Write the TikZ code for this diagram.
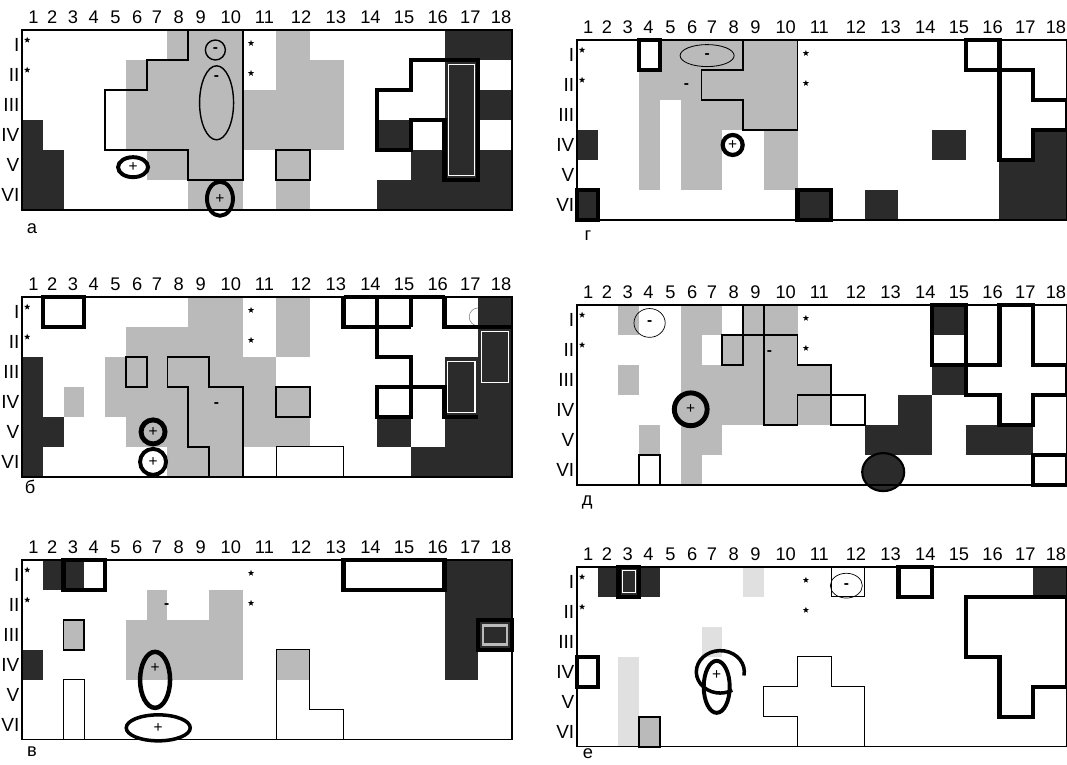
\documentclass[tikz,border=0pt]{standalone}
\usepackage{fontspec}
\setmainfont{Liberation Sans}
\usetikzlibrary{shapes.geometric,calc}
\definecolor{darkCell}{HTML}{2B2B2B}
\definecolor{lightCell}{HTML}{BABABA}
\definecolor{paleCell}{HTML}{E0E0E0}

\begin{document}
\begin{tikzpicture}[
    declare function={cx(\k)=min(\k,9)+1.62*max(\k-9,0);},
    dark/.style={fill=darkCell},
    light/.style={fill=lightCell},
    pale/.style={fill=paleCell},
    gridframe/.style={line width=0.9pt},
    outl/.style={line width=1.3pt},
    fine/.style={line width=0.7pt},
    heavy/.style={line width=3pt},
    cellinset/.style={white, line width=0.8pt},
    pole/.style={ellipse, draw, inner sep=0pt, outer sep=0pt, font=\fontsize{11}{11}\selectfont},
    minustxt/.style={font=\bfseries\fontsize{11}{11}\selectfont, inner sep=0pt},
    starmark/.style={star, star points=5, star point ratio=2.4, fill=black, inner sep=0pt, minimum size=0.16cm},
    collab/.style={font=\fontsize{13}{13}\selectfont, inner sep=0pt},
    rowlab/.style={anchor=east, font=\fontsize{13.5}{13.5}\selectfont, inner sep=0pt},
    panlab/.style={font=\fontsize{13}{13}\selectfont, inner sep=0pt},
]

\useasboundingbox (0,0) rectangle (26.675,-19.1);

% Grid points of the six panels
\foreach \p/\ox/\oy in {a/22/30, g/577/40, b/22/297, d/577/305, v/22/560, e/577/567}{
  \foreach \c in {0,...,18}{
    \foreach \r in {0,...,6}{
      \coordinate (\p-\c-\r) at ({(\ox+20.78*cx(\c))*0.025},{-(\oy+30*\r)*0.025});
    }
  }
}

% Column numbers and row numerals
\foreach \p in {a,g,b,d,v,e}{
  \foreach \k/\dx [count=\km from 0] in {1/1,2/-1,3/-1,4/-1,5/0,6/1,7/0,8/1,9/2,10/5,11/5,12/8,13/9,14/10,15/10,16/10,17/9,18/6}{
    \node[collab, anchor=base] (\p-col\k) at ($(\p-\km-0)!0.5!(\p-\k-0)+(\dx*0.025,0.15)$) {\k};
  }
  \foreach \r/\t in {1/I,2/II,3/III,4/IV,5/V,6/VI}{
    \node[rowlab] (\p-row\r) at ([xshift=-0.06cm,yshift=0.375cm]\p-0-\r) {\t};
  }
}

% Panel a
\fill[light] (a-7-0) rectangle (a-10-1);
\fill[light] (a-11-0) rectangle (a-12-6);
\fill[light] (a-5-1) rectangle (a-10-2);
\fill[light] (a-11-1) rectangle (a-13-2);
\fill[light] (a-5-2) rectangle (a-13-4);
\fill[light] (a-6-4) rectangle (a-10-5);
\fill[light] (a-8-5) rectangle (a-10-6);
\fill[dark] (a-0-3) rectangle (a-1-6);
\fill[dark] (a-1-4) rectangle (a-2-6);
\fill[dark] (a-16-0) rectangle (a-18-1);
\fill[dark] (a-16-1) rectangle (a-17-5);
\fill[dark] (a-16-2) rectangle (a-18-3);
\fill[dark] (a-14-3) rectangle (a-15-4);
\fill[dark] (a-15-4) rectangle (a-18-6);
\fill[dark] (a-14-5) rectangle (a-15-6);
\draw[cellinset] ([shift={(0.1,-0.12)}]a-16-1) rectangle ([shift={(-0.1,0.12)}]a-17-5);
\draw[outl] (a-8-0) -- (a-8-1) -- (a-6-1) -- (a-6-2) -- (a-4-2) -- (a-4-4) -- (a-8-4) -- (a-8-5) -- (a-10-5) -- (a-10-0);
\draw[outl] (a-11-4) rectangle (a-12-5);
\draw[heavy] (a-14-2) -- (a-15-2) -- (a-15-1) -- (a-17-1) -- (a-17-5) -- (a-16-5) -- (a-16-3) -- (a-15-3) -- (a-15-4) -- (a-14-4) -- cycle;
\node[pole, line width=1pt, minimum size=0.5cm] (a-minus) at ([shift={(0.16,-0.5)}]a-9-0) {\textbf{-}};
\node[pole, line width=1pt, minimum width=0.85cm, minimum height=1.85cm] (a-oval) at ([shift={(0.19,-1.82)}]a-9-0) {};
\node[minustxt] (a-dash) at ([yshift=0.62cm]a-oval.center) {-};
\node[pole, line width=2.8pt, minimum width=0.75cm, minimum height=0.5cm] (a-plus1) at ([shift={(0.18,-0.43)}]a-5-4) {+};
\node[pole, line width=2.8pt, minimum width=0.65cm, minimum height=0.85cm] (a-plus2) at ([shift={(0.275,-0.47)}]a-9-5) {+};

% Panel g
\fill[light] (g-4-0) rectangle (g-10-1);
\fill[light] (g-3-1) rectangle (g-10-2);
\fill[light] (g-3-2) rectangle (g-4-5);
\fill[light] (g-5-2) rectangle (g-10-3);
\fill[light] (g-5-3) rectangle (g-7-5);
\fill[light] (g-9-3) rectangle (g-10-5);
\fill[dark] (g-0-3) rectangle (g-1-4);
\fill[dark] (g-12-5) rectangle (g-13-6);
\fill[dark] (g-14-3) rectangle (g-15-4);
\fill[dark] (g-16-4) rectangle (g-17-6);
\fill[dark] (g-17-3) rectangle (g-18-6);
\draw[heavy, fill=darkCell] (g-0-5) rectangle (g-1-6);
\draw[heavy, fill=darkCell] (g-10-5) rectangle (g-11-6);
\draw[outl] (g-8-0) -- (g-8-1) -- (g-6-1) -- (g-6-2) -- (g-8-2) -- (g-8-3) -- (g-10-3) -- (g-10-0);
\draw[heavy] (g-3-0) rectangle (g-4-1);
\draw[heavy] (g-15-0) rectangle (g-16-1);
\draw[heavy] (g-16-1) -- (g-17-1) -- (g-17-2) -- (g-18-2) -- (g-18-3) -- (g-17-3) -- (g-17-4) -- (g-16-4) -- cycle;
\node[pole, line width=0.6pt, minimum width=1.35cm, minimum height=0.55cm] (g-minus) at ([shift={(0.14,-0.39)}]g-6-0) {\textbf{-}};
\node[minustxt] (g-dash) at ([shift={(0.14,-0.39)}]g-5-1) {-};
\node[pole, line width=3pt, minimum size=0.5cm] (g-plus) at ([shift={(0.26,-0.375)}]g-7-3) {+};

% Panel b
\fill[light] (b-8-0) rectangle (b-10-1);
\fill[light] (b-11-0) rectangle (b-12-2);
\fill[light] (b-5-1) rectangle (b-10-2);
\fill[light] (b-4-2) rectangle (b-11-4);
\fill[light] (b-11-3) rectangle (b-12-4);
\fill[light] (b-5-4) rectangle (b-12-5);
\fill[light] (b-7-5) rectangle (b-10-6);
\fill[light] (b-2-3) rectangle (b-3-4);
\node[circle, draw=gray, line width=0.4pt, minimum size=0.45cm] (b-arc) at ([shift={(0,-0.5)}]b-17-0) {};
\fill[dark] (b-0-2) rectangle (b-1-6);
\fill[dark] (b-1-4) rectangle (b-2-5);
\fill[dark] (b-17-0) rectangle (b-18-6);
\fill[dark] (b-16-2) rectangle (b-17-6);
\fill[dark] (b-15-5) rectangle (b-16-6);
\fill[dark] (b-14-4) rectangle (b-15-5);
\draw[cellinset] ([shift={(0.08,-0.12)}]b-17-1) rectangle ([shift={(-0.08,0.12)}]b-18-3);
\draw[cellinset] ([shift={(0.08,-0.12)}]b-16-2) rectangle ([shift={(-0.08,0.12)}]b-17-4);
\draw[outl] (b-5-2) rectangle (b-6-3);
\draw[outl] (b-7-2) -- (b-9-2) -- (b-9-3) -- (b-10-3) -- (b-10-6) -- (b-9-6) -- (b-9-5) -- (b-8-5) -- (b-8-3) -- (b-7-3) -- cycle;
\draw[outl] (b-11-3) rectangle (b-12-4);
\draw[fine] (b-11-5) rectangle (b-13-6);
\draw[heavy] (b-1-0) rectangle (b-3-1);
\draw[heavy] (b-13-0) -- (b-16-0);
\draw[heavy] (b-13-0) -- (b-13-1) -- (b-15-1);
\draw[heavy] (b-14-0) -- (b-14-2) -- (b-15-2) -- (b-15-4) -- (b-14-4) -- (b-14-3) -- (b-16-3) -- (b-16-4) -- (b-17-4);
\draw[heavy] (b-15-0) -- (b-15-1);
\draw[heavy] (b-16-0) -- (b-16-1) -- (b-18-1);
\node[pole, line width=3.5pt, minimum size=0.6cm] (b-plus1) at ([shift={(0.16,-0.375)}]b-6-4) {+};
\node[pole, line width=2.8pt, minimum size=0.65cm, fill=white] (b-plus2) at ([shift={(0.16,-0.375)}]b-6-5) {+};
\node[minustxt] (b-dash) at ([shift={(0.19,-0.45)}]b-9-3) {-};

% Panel d
\fill[light] (d-2-0) rectangle (d-3-1);
\fill[light] (d-5-0) rectangle (d-7-1);
\fill[light] (d-8-0) rectangle (d-10-1);
\fill[light] (d-5-1) rectangle (d-6-2);
\fill[light] (d-7-1) rectangle (d-10-2);
\fill[light] (d-2-2) rectangle (d-3-3);
\fill[light] (d-5-2) rectangle (d-11-4);
\fill[light] (d-3-4) rectangle (d-4-5);
\fill[light] (d-5-4) rectangle (d-7-5);
\fill[light] (d-5-5) rectangle (d-6-6);
\fill[dark] (d-12-4) rectangle (d-14-5);
\fill[dark] (d-13-3) rectangle (d-14-4);
\fill[dark] (d-14-0) rectangle (d-15-1);
\fill[dark] (d-14-2) rectangle (d-15-3);
\fill[dark] (d-15-4) rectangle (d-17-5);
\draw[outl] (d-8-0) -- (d-8-1);
\draw[outl] (d-7-1) rectangle (d-8-2);
\draw[outl] (d-8-1) -- (d-10-1) -- (d-10-2) -- (d-11-2) -- (d-11-3);
\draw[outl] (d-9-0) -- (d-9-4) -- (d-10-4) -- (d-10-3) -- (d-12-3) -- (d-12-4) -- (d-11-4) -- (d-11-3);
\draw[outl] (d-3-5) rectangle (d-4-6);
\draw[heavy] (d-14-0) rectangle (d-15-2);
\draw[heavy] (d-16-0) -- (d-17-0) -- (d-17-2) -- (d-18-2) -- (d-18-3) -- (d-17-3) -- (d-17-4) -- (d-16-4) -- (d-16-3) -- (d-15-3) -- (d-15-2) -- (d-16-2) -- cycle;
\draw[heavy] (d-17-5) rectangle (d-18-6);
\node[pole, line width=0.5pt, minimum width=0.78cm, minimum height=0.72cm] (d-minus) at ([shift={(0.26,-0.45)}]d-3-0) {\textbf{-}};
\node[pole, line width=3.5pt, minimum size=0.82cm, fill=lightCell] (d-plus) at ([shift={(0.25,-0.36)}]d-5-3) {+};
\node[minustxt] (d-dash) at ([shift={(0.14,-0.45)}]d-9-1) {-};
\node[pole, line width=1.5pt, fill=darkCell, minimum width=1.05cm, minimum height=0.95cm] (d-blot) at ([shift={(0.46,-0.43)}]d-12-5) {};

% Panel v
\fill[light] (v-6-1) rectangle (v-7-2);
\fill[light] (v-9-1) rectangle (v-10-2);
\fill[light] (v-5-2) rectangle (v-10-4);
\fill[light] (v-2-2) rectangle (v-3-3);
\fill[light] (v-11-3) rectangle (v-12-4);
\fill[dark] (v-1-0) rectangle (v-3-1);
\fill[dark] (v-0-3) rectangle (v-1-4);
\fill[dark] (v-16-0) rectangle (v-17-4);
\fill[dark] (v-17-0) rectangle (v-18-3);
\draw[lightCell, line width=2pt] ([shift={(0.12,-0.14)}]v-17-2) rectangle ([shift={(-0.12,0.14)}]v-18-3);
\draw[outl] (v-2-2) rectangle (v-3-3);
\draw[fine] (v-2-6) -- (v-2-4) -- (v-3-4) -- (v-3-6);
\draw[fine] (v-11-6) -- (v-11-3) -- (v-12-3) -- (v-12-5) -- (v-13-5) -- (v-13-6);
\draw[heavy] (v-2-0) rectangle (v-4-1);
\draw[heavy] (v-13-0) rectangle (v-16-1);
\draw[heavy] (v-17-2) rectangle (v-18-3);
\node[minustxt] (v-dash) at ([shift={(0.5,-0.4)}]v-6-1) {-};
\node[pole, line width=3.2pt, minimum width=0.75cm, minimum height=1.4cm] (v-oval) at ([shift={(0.21,0)}]v-6-4) {};
\node[font=\fontsize{11}{11}\selectfont, inner sep=0pt] (v-plus1) at ([yshift=0.3cm]v-oval.center) {+};
\node[pole, line width=2.5pt, minimum width=1.6cm, minimum height=0.65cm, fill=white] (v-plus2) at ([shift={(0.29,-0.45)}]v-6-5) {+};

% Panel e
\fill[pale] (e-8-0) rectangle (e-9-1);
\fill[pale] (e-6-2) rectangle (e-7-3);
\fill[pale] (e-2-3) rectangle (e-3-6);
\fill[light] (e-3-5) rectangle (e-4-6);
\fill[dark] (e-1-0) rectangle (e-4-1);
\fill[dark] (e-17-0) rectangle (e-18-1);
\draw[cellinset] ([shift={(0.1,-0.1)}]e-2-0) rectangle ([shift={(-0.1,0.1)}]e-3-1);
\draw[fine] (e-11-0) rectangle (e-12-1);
\draw[outl] (e-3-5) rectangle (e-4-6);
\draw[fine] (e-9-4) -- (e-10-4) -- (e-10-3) -- (e-11-3) -- (e-11-4) -- (e-12-4) -- (e-12-6) -- (e-10-6) -- (e-10-5) -- (e-9-5) -- cycle;
\draw[heavy] (e-2-0) rectangle (e-3-1);
\draw[heavy] (e-13-0) rectangle (e-14-1);
\draw[heavy] (e-0-3) rectangle (e-1-4);
\draw[heavy] (e-15-1) -- (e-18-1) -- (e-18-4) -- (e-17-4) -- (e-17-5) -- (e-16-5) -- (e-16-3) -- (e-15-3) -- cycle;
\node[pole, line width=0.5pt, minimum width=0.8cm, minimum height=0.62cm] (e-minus) at ([shift={(0.38,-0.47)}]e-11-0) {\textbf{-}};
\node[pole, line width=2.8pt, minimum width=0.65cm, minimum height=1.3cm] (e-oval) at ([shift={(0.38,0)}]e-6-4) {};
\coordinate (e-ring) at ([shift={(0.47,-0.375)}]e-6-3);
\draw[line width=2.5pt] ([shift={(-10:0.6cm and 0.53cm)}]e-ring) arc[start angle=-10, end angle=300, x radius=0.6cm, y radius=0.53cm];
\node[font=\fontsize{11}{11}\selectfont, inner sep=0pt] (e-plus) at ([shift={(0.38,-0.45)}]e-6-3) {+};

% Frames and stars
\foreach \p in {a,g,b,d,v,e}{
  \draw[gridframe] (\p-0-0) rectangle (\p-18-6);
  \node[starmark] (\p-star1) at ([shift={(0.13,-0.25)}]\p-0-0) {};
  \node[starmark] (\p-star2) at ([shift={(0.13,-0.25)}]\p-0-1) {};
  \node[starmark] (\p-star3) at ([shift={(0.21,-0.33)}]\p-10-0) {};
  \node[starmark] (\p-star4) at ([shift={(0.21,-0.33)}]\p-10-1) {};
}

% Panel letters
\node[panlab] (lab-a) at (0.8,-5.72) {а};
\node[panlab] (lab-g) at (14.7,-5.9) {г};
\node[panlab] (lab-b) at (0.75,-12.17) {б};
\node[panlab] (lab-d) at (14.68,-12.55) {д};
\node[panlab] (lab-v) at (0.8,-18.78) {в};
\node[panlab] (lab-e) at (14.7,-18.84) {е};

\end{tikzpicture}
\end{document}
